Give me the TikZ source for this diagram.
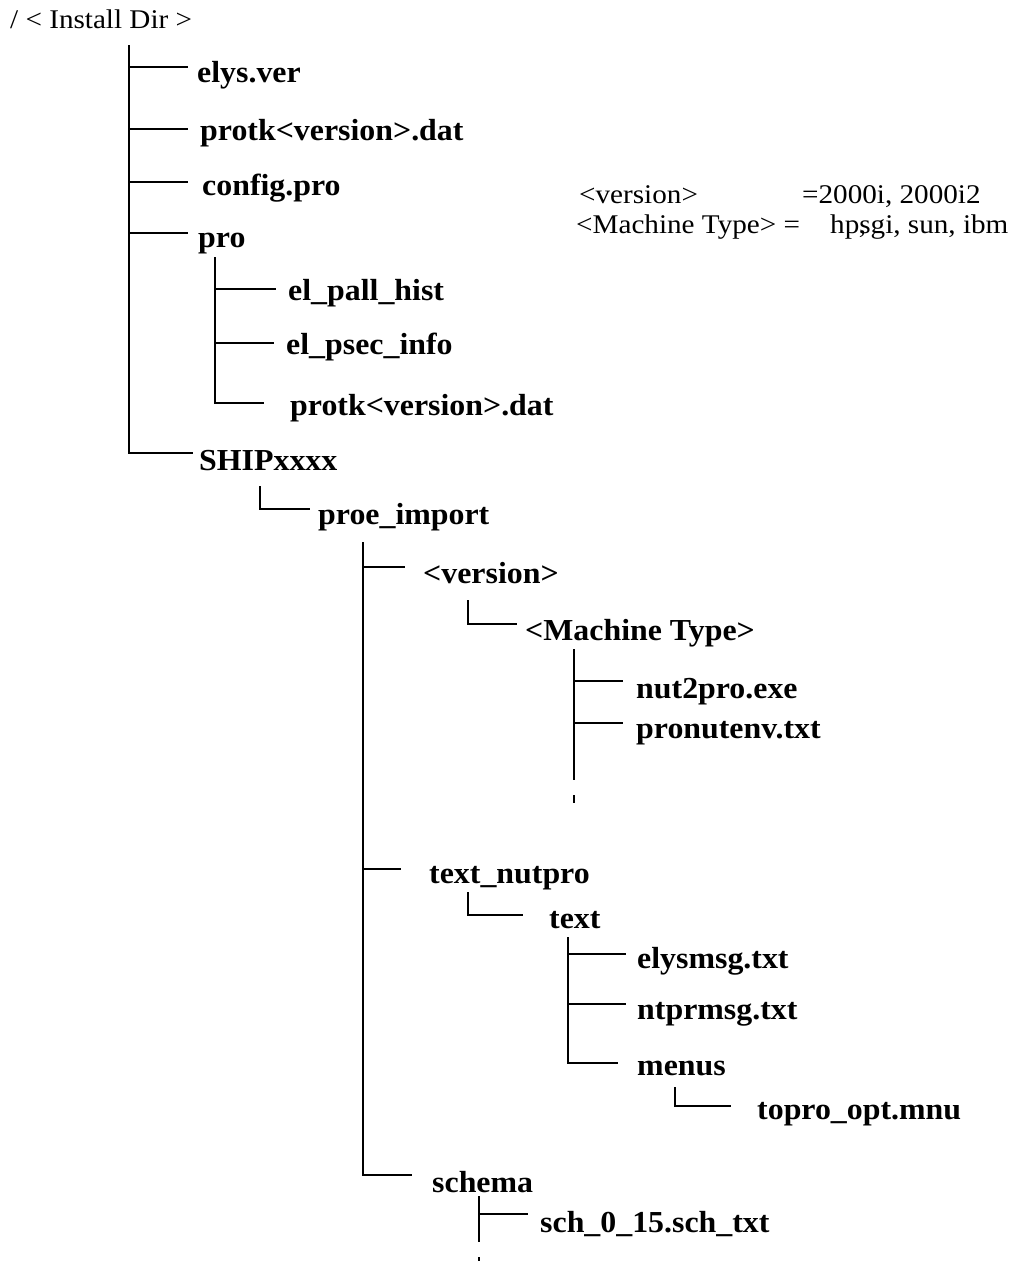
\documentclass[tikz,border=0pt]{standalone}
\usepackage{fontspec}
\setmainfont{Liberation Serif}[FakeStretch=1.08]
\newfontfamily\lblfont{Liberation Serif}[FakeStretch=1.045]
\begin{document}
\begin{tikzpicture}[x=1pt,y=-1pt,
  lbl/.style={anchor=base west, inner sep=0pt, font=\lblfont\bfseries\fontsize{30.5}{35}\selectfont},
  note/.style={anchor=base west, inner sep=0pt, font=\fontsize{27}{32}\selectfont},
  tree/.style={line width=1.6pt, line cap=butt, line join=miter}]
\useasboundingbox (0,0) rectangle (1022,1261);

% texts
\node[note] (install) at (10,28) {/ < Install Dir >};
\node[lbl] (elys) at (197,82) {elys.ver};
\node[lbl] (protk) at (200,140) {protk<version>.dat};
\node[lbl] (config) at (202,195) {config.pro};
\node[lbl] (pro) at (198,247) {pro};
\node[lbl] (pall) at (288,300) {el\_pall\_hist};
\node[lbl] (psec) at (286,354) {el\_psec\_info};
\node[lbl] (protkb) at (290,415) {protk<version>.dat};
\node[lbl] (ship) at (199,470) {SHIPxxxx};
\node[lbl] (proe) at (318,524) {proe\_import};
\node[lbl] (ver) at (423,583) {<version>};
\node[lbl] (mach) at (525,640) {<Machine Type>};
\node[lbl] (nut) at (636,698) {nut2pro.exe};
\node[lbl] (pnv) at (636,738) {pronutenv.txt};
\node[lbl] (tnp) at (429,883) {text\_nutpro};
\node[lbl] (text) at (549,928) {text};
\node[lbl] (elysmsg) at (637,968) {elysmsg.txt};
\node[lbl] (ntpr) at (637,1019) {ntprmsg.txt};
\node[lbl] (menus) at (637,1075) {menus};
\node[lbl] (topro) at (757,1119) {topro\_opt.mnu};
\node[lbl] (schema) at (432,1192) {schema};
\node[lbl] (sch) at (540,1232) {sch\_0\_15.sch\_txt};

% notes
\node[note] (nv) at (579,203) {<version>};
\node[note] (nvv) at (802,203) {=2000i, 2000i2};
\node[note] (nm) at (576,233) {<Machine Type> =};
\node[note] (nmv) at (830,233) {hp\rlap{\kern-0.02em,}sgi, sun, ibm};

% level 1
\coordinate (v1top) at (129,45);
\coordinate (v1bot) at (129,453);
\coordinate (b-elys) at (188,67);
\coordinate (b-protk) at (188,129);
\coordinate (b-config) at (188,182);
\coordinate (b-pro) at (188,233);
\coordinate (b-ship) at (193,453);
\draw[tree] (v1top) -- (v1bot) -- (b-ship);
\foreach \b in {b-elys,b-protk,b-config,b-pro}
  \draw[tree] (v1top |- \b) -- (\b);

% pro
\coordinate (v2top) at (215,257);
\coordinate (v2bot) at (215,403);
\coordinate (b-pall) at (276,289);
\coordinate (b-psec) at (274,343);
\coordinate (b-protkb) at (264,403);
\draw[tree] (v2top) -- (v2bot) -- (b-protkb);
\foreach \b in {b-pall,b-psec}
  \draw[tree] (v2top |- \b) -- (\b);

% SHIPxxxx -> proe_import
\coordinate (l1top) at (260,486);
\coordinate (b-proe) at (310,509);
\draw[tree] (l1top) |- (b-proe);

% proe_import
\coordinate (v3top) at (363,542);
\coordinate (v3bot) at (363,1175);
\coordinate (b-ver) at (405,567);
\coordinate (b-tnp) at (401,869);
\coordinate (b-schema) at (412,1175);
\draw[tree] (v3top) -- (v3bot) -- (b-schema);
\foreach \b in {b-ver,b-tnp}
  \draw[tree] (v3top |- \b) -- (\b);

% <version> -> <Machine Type>
\coordinate (l2top) at (468,600);
\coordinate (b-mach) at (517,624);
\draw[tree] (l2top) |- (b-mach);

% <Machine Type>
\coordinate (v4top) at (574,649);
\coordinate (v4bot) at (574,780);
\coordinate (v4dtop) at (574,795);
\coordinate (v4dbot) at (574,803);
\coordinate (b-nut) at (623,681);
\coordinate (b-pnv) at (623,723);
\draw[tree] (v4top) -- (v4bot);
\draw[tree] (v4dtop) -- (v4dbot);
\foreach \b in {b-nut,b-pnv}
  \draw[tree] (v4top |- \b) -- (\b);

% text_nutpro -> text
\coordinate (l3top) at (468,892);
\coordinate (b-text) at (523,915);
\draw[tree] (l3top) |- (b-text);

% text
\coordinate (v5top) at (568,937);
\coordinate (v5bot) at (568,1063);
\coordinate (b-elysmsg) at (626,954);
\coordinate (b-ntpr) at (626,1004);
\coordinate (b-menus) at (618,1063);
\draw[tree] (v5top) -- (v5bot) -- (b-menus);
\foreach \b in {b-elysmsg,b-ntpr}
  \draw[tree] (v5top |- \b) -- (\b);

% menus -> topro_opt.mnu
\coordinate (l4top) at (675,1087);
\coordinate (b-topro) at (731,1106);
\draw[tree] (l4top) |- (b-topro);

% schema
\coordinate (v6top) at (479,1196);
\coordinate (v6bot) at (479,1242);
\coordinate (v6dtop) at (479,1257);
\coordinate (v6dbot) at (479,1261);
\coordinate (b-sch) at (528,1214);
\draw[tree] (v6top) -- (v6bot);
\draw[tree] (v6dtop) -- (v6dbot);
\draw[tree] (v6top |- b-sch) -- (b-sch);
\end{tikzpicture}
\end{document}
